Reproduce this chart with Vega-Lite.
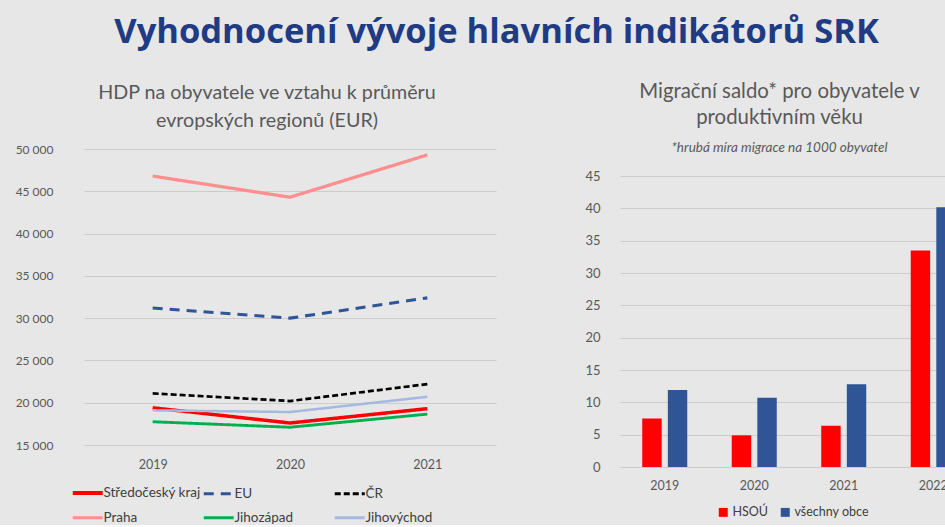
{
  "$schema": "https://vega.github.io/schema/vega-lite/v6.json",
  "background": "#e7e7e7",
  "padding": {"left": 15, "top": 14, "right": 0, "bottom": 0},
  "config": {
    "font": "Lato",
    "view": {"stroke": null},
    "axis": {"labelColor": "#595959", "labelFontSize": 12.5, "title": null, "domain": false, "ticks": false, "gridColor": "#cccccc", "gridWidth": 1}
  },
  "title": {
    "text": "Vyhodnocení vývoje hlavních indikátorů SRK",
    "font": "Open Sans",
    "fontSize": 34.5,
    "fontWeight": "bold",
    "color": "#1f3b84",
    "anchor": "middle",
    "dx": 0,
    "offset": 32
  },
  "datasets": {
    "hdp": [
      {"year": "2019", "region": "Středočeský kraj", "value": 19400},
      {"year": "2020", "region": "Středočeský kraj", "value": 17600},
      {"year": "2021", "region": "Středočeský kraj", "value": 19300},
      {"year": "2019", "region": "EU", "value": 31200},
      {"year": "2020", "region": "EU", "value": 30000},
      {"year": "2021", "region": "EU", "value": 32400},
      {"year": "2019", "region": "ČR", "value": 21100},
      {"year": "2020", "region": "ČR", "value": 20200},
      {"year": "2021", "region": "ČR", "value": 22200},
      {"year": "2019", "region": "Praha", "value": 46800},
      {"year": "2020", "region": "Praha", "value": 44300},
      {"year": "2021", "region": "Praha", "value": 49300},
      {"year": "2019", "region": "Jihozápad", "value": 17750},
      {"year": "2020", "region": "Jihozápad", "value": 17100},
      {"year": "2021", "region": "Jihozápad", "value": 18650},
      {"year": "2019", "region": "Jihovýchod", "value": 19100},
      {"year": "2020", "region": "Jihovýchod", "value": 18900},
      {"year": "2021", "region": "Jihovýchod", "value": 20700}
    ],
    "mig": [
      {"year": "2019", "series": "HSOÚ", "value": 7.5},
      {"year": "2019", "series": "všechny obce", "value": 11.9},
      {"year": "2020", "series": "HSOÚ", "value": 4.9},
      {"year": "2020", "series": "všechny obce", "value": 10.7},
      {"year": "2021", "series": "HSOÚ", "value": 6.4},
      {"year": "2021", "series": "všechny obce", "value": 12.8},
      {"year": "2022", "series": "HSOÚ", "value": 33.5},
      {"year": "2022", "series": "všechny obce", "value": 40.2}
    ]
  },
  "spacing": 88,
  "resolve": {"scale": {"x": "independent", "y": "independent", "color": "independent"}, "legend": {"color": "independent"}},
  "hconcat": [
    {
      "width": 412,
      "height": 296,
      "title": {
        "text": ["HDP na obyvatele ve vztahu k průměru", "evropských regionů (EUR)"],
        "fontSize": 19.7,
        "fontWeight": "normal",
        "color": "#595959",
        "lineHeight": 28,
        "anchor": "middle",
        "dx": -23,
        "offset": 12
      },
      "data": {"name": "hdp"},
      "mark": {"type": "line"},
      "encoding": {
        "x": {"field": "year", "type": "ordinal", "axis": {"labelAngle": 0, "labelPadding": 13}},
        "y": {
          "field": "value",
          "type": "quantitative",
          "scale": {"domain": [15000, 50000], "nice": false, "zero": false},
          "axis": {"values": [15000, 20000, 25000, 30000, 35000, 40000, 45000, 50000], "labelExpr": "replace(format(datum.value, ','), ',', ' ')", "labelPadding": 31, "labelFontSize": 12}
        },
        "color": {
          "field": "region",
          "type": "nominal",
          "scale": {"domain": ["Středočeský kraj", "Praha", "EU", "Jihozápad", "ČR", "Jihovýchod"], "range": ["#ff0000", "#ff8f8f", "#2f5597", "#00b050", "#000000", "#a4b8e0"]},
          "legend": {
            "title": null, "orient": "none", "legendX": -3, "legendY": 337, "columns": 3, "gridAlign": "all",
            "symbolType": "stroke", "symbolSize": 900, "symbolStrokeWidth": 3, "labelFontSize": 13.5, "labelColor": "#404040", "labelOffset": 9, "rowPadding": 9, "columnPadding": -4,
            "encode": {"symbols": {"update": {
              "strokeDash": {"signal": "datum.value === 'EU' ? [10, 7] : datum.value === 'ČR' ? [6, 3] : [1, 0]"},
              "strokeWidth": {"signal": "datum.value === 'Středočeský kraj' ? 4 : 3"}
            }}}
          }
        },
        "strokeDash": {
          "field": "region",
          "type": "nominal",
          "scale": {"domain": ["Středočeský kraj", "Praha", "EU", "Jihozápad", "ČR", "Jihovýchod"], "range": [[1, 0], [1, 0], [10, 7], [1, 0], [6, 3], [1, 0]]},
          "legend": null
        },
        "strokeWidth": {
          "field": "region",
          "type": "nominal",
          "scale": {"domain": ["Středočeský kraj", "Praha", "EU", "Jihozápad", "ČR", "Jihovýchod"], "range": [3.5, 2.5, 2.5, 2.5, 3, 2.5]},
          "legend": null
        }
      }
    },
    {
      "width": 327,
      "height": 318,
      "title": {
        "text": ["Migrační saldo* pro obyvatele v", "produktivním věku"],
        "subtitle": "*hrubá míra migrace na 1000 obyvatel",
        "fontSize": 20.4,
        "fontWeight": "normal",
        "color": "#595959",
        "lineHeight": 26,
        "anchor": "middle",
        "dx": -4,
        "subtitleFontStyle": "italic",
        "subtitleFontSize": 13.5,
        "subtitleColor": "#595959",
        "subtitlePadding": 12,
        "offset": -5
      },
      "data": {"name": "mig"},
      "mark": {"type": "bar", "clip": true},
      "encoding": {
        "x": {"field": "year", "type": "ordinal", "scale": {"range": [0, 358], "paddingInner": 0.497, "paddingOuter": 0.2486}, "axis": {"labelAngle": 0, "labelPadding": 12}},
        "xOffset": {"field": "series", "type": "nominal", "sort": ["HSOÚ", "všechny obce"], "scale": {"paddingInner": 0.24, "paddingOuter": 0}},
        "y": {
          "field": "value",
          "type": "quantitative",
          "scale": {"domain": [0, 49.2], "nice": false},
          "axis": {"values": [0, 5, 10, 15, 20, 25, 30, 35, 40, 45], "labelPadding": 20, "labelFontSize": 13}
        },
        "color": {
          "field": "series",
          "type": "nominal",
          "scale": {"domain": ["HSOÚ", "všechny obce"], "range": ["#ff0000", "#2f5597"]},
          "legend": {"title": null, "orient": "none", "legendX": 97, "legendY": 357, "direction": "horizontal", "symbolType": "square", "symbolSize": 80, "symbolStrokeWidth": 0, "labelFontSize": 12.5, "labelColor": "#404040", "labelOffset": 3, "columnPadding": 10}
        }
      }
    }
  ]
}
